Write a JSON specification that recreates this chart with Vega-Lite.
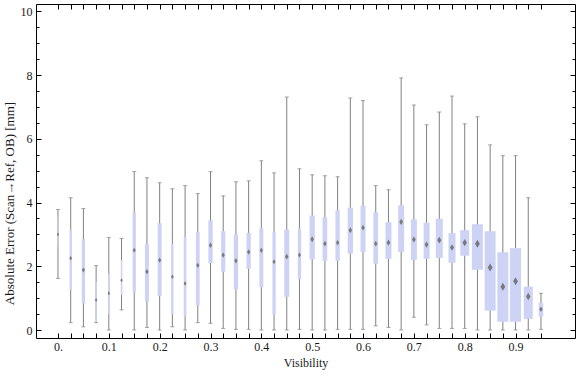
{
  "$schema": "https://vega.github.io/schema/vega-lite/v6.json",
  "width": 539,
  "height": 334,
  "autosize": {"type": "none"},
  "padding": {"left": 36, "top": 4, "right": 1, "bottom": 39},
  "background": "white",
  "config": {
    "view": {"stroke": "black", "strokeWidth": 1},
    "font": "Liberation Serif",
    "axis": {
      "labelFont": "Liberation Serif",
      "titleFont": "Liberation Serif",
      "labelFontSize": 12,
      "titleFontSize": 12,
      "titleFontWeight": "normal",
      "labelColor": "#1a1a1a",
      "titleColor": "#1a1a1a",
      "ticks": true,
      "tickColor": "#000000",
      "tickOpacity": 1,
      "tickWidth": 1,
      "domain": false,
      "grid": false,
      "labelOverlap": false,
      "labelFlush": false,
      "labelBound": false
    }
  },
  "data": {
    "values": [
      {"vis": 0.0, "lo": 1.62, "q1": 2.61, "med": 3.0, "q3": 3.55, "hi": 3.78, "n": 1},
      {"vis": 0.025, "lo": 0.23, "q1": 1.25, "med": 2.25, "q3": 3.15, "hi": 4.15, "n": 2.3},
      {"vis": 0.05, "lo": 0.1, "q1": 0.83, "med": 1.88, "q3": 2.85, "hi": 3.81, "n": 3.3},
      {"vis": 0.075, "lo": 0.23, "q1": 0.26, "med": 0.94, "q3": 1.51, "hi": 2.02, "n": 1.5},
      {"vis": 0.1, "lo": 0.0, "q1": 0.5, "med": 1.15, "q3": 1.77, "hi": 2.9, "n": 1.5},
      {"vis": 0.125, "lo": 0.63, "q1": 1.1, "med": 1.56, "q3": 2.19, "hi": 2.87, "n": 1.5},
      {"vis": 0.15, "lo": 0.0, "q1": 1.17, "med": 2.5, "q3": 3.69, "hi": 4.97, "n": 3.3},
      {"vis": 0.175, "lo": 0.08, "q1": 0.89, "med": 1.83, "q3": 2.69, "hi": 4.78, "n": 4},
      {"vis": 0.2, "lo": 0.0, "q1": 1.07, "med": 2.19, "q3": 3.35, "hi": 4.62, "n": 4},
      {"vis": 0.225, "lo": 0.1, "q1": 0.49, "med": 1.67, "q3": 2.71, "hi": 4.43, "n": 2.3},
      {"vis": 0.25, "lo": 0.0, "q1": 0.42, "med": 1.46, "q3": 2.92, "hi": 4.53, "n": 2.7},
      {"vis": 0.275, "lo": 0.23, "q1": 0.77, "med": 2.03, "q3": 3.07, "hi": 4.28, "n": 3.7},
      {"vis": 0.3, "lo": 0.21, "q1": 2.1, "med": 2.66, "q3": 3.44, "hi": 4.97, "n": 4.3},
      {"vis": 0.325, "lo": 0.05, "q1": 1.83, "med": 2.35, "q3": 3.1, "hi": 4.21, "n": 4.2},
      {"vis": 0.35, "lo": 0.02, "q1": 1.27, "med": 2.17, "q3": 3.0, "hi": 4.65, "n": 4.3},
      {"vis": 0.375, "lo": 0.02, "q1": 1.92, "med": 2.45, "q3": 3.05, "hi": 4.68, "n": 4.3},
      {"vis": 0.4, "lo": 0.0, "q1": 1.34, "med": 2.5, "q3": 3.19, "hi": 5.31, "n": 4},
      {"vis": 0.425, "lo": 0.0, "q1": 0.49, "med": 2.14, "q3": 3.07, "hi": 4.93, "n": 3.3},
      {"vis": 0.45, "lo": 0.0, "q1": 1.04, "med": 2.3, "q3": 3.15, "hi": 7.31, "n": 5},
      {"vis": 0.475, "lo": 0.02, "q1": 1.59, "med": 2.35, "q3": 3.19, "hi": 5.06, "n": 3.3},
      {"vis": 0.5, "lo": 0.0, "q1": 2.22, "med": 2.85, "q3": 3.59, "hi": 4.87, "n": 5.3},
      {"vis": 0.525, "lo": 0.0, "q1": 2.17, "med": 2.71, "q3": 3.53, "hi": 4.84, "n": 4.7},
      {"vis": 0.55, "lo": 0.02, "q1": 2.17, "med": 2.74, "q3": 3.76, "hi": 4.81, "n": 4.3},
      {"vis": 0.575, "lo": 0.02, "q1": 2.4, "med": 3.13, "q3": 3.84, "hi": 7.28, "n": 5.3},
      {"vis": 0.6, "lo": 0.02, "q1": 2.45, "med": 3.21, "q3": 3.9, "hi": 7.2, "n": 5},
      {"vis": 0.625, "lo": 0.13, "q1": 2.08, "med": 2.71, "q3": 3.69, "hi": 4.53, "n": 4.7},
      {"vis": 0.65, "lo": 0.08, "q1": 2.23, "med": 2.74, "q3": 3.38, "hi": 4.4, "n": 6},
      {"vis": 0.675, "lo": 0.0, "q1": 2.45, "med": 3.39, "q3": 3.91, "hi": 7.91, "n": 6},
      {"vis": 0.7, "lo": 0.4, "q1": 2.2, "med": 2.84, "q3": 3.47, "hi": 7.06, "n": 6},
      {"vis": 0.725, "lo": 0.16, "q1": 2.23, "med": 2.68, "q3": 3.37, "hi": 6.44, "n": 6},
      {"vis": 0.75, "lo": 0.05, "q1": 2.26, "med": 2.82, "q3": 3.49, "hi": 6.84, "n": 7},
      {"vis": 0.775, "lo": 0.05, "q1": 2.11, "med": 2.59, "q3": 3.04, "hi": 7.34, "n": 7},
      {"vis": 0.8, "lo": 0.05, "q1": 2.33, "med": 2.74, "q3": 3.13, "hi": 6.47, "n": 9},
      {"vis": 0.825, "lo": 0.0, "q1": 1.89, "med": 2.71, "q3": 3.32, "hi": 6.69, "n": 11},
      {"vis": 0.85, "lo": 0.0, "q1": 0.61, "med": 1.96, "q3": 3.1, "hi": 5.81, "n": 11},
      {"vis": 0.875, "lo": 0.0, "q1": 0.26, "med": 1.36, "q3": 2.44, "hi": 5.47, "n": 11},
      {"vis": 0.9, "lo": 0.0, "q1": 0.26, "med": 1.53, "q3": 2.57, "hi": 5.47, "n": 11},
      {"vis": 0.925, "lo": 0.0, "q1": 0.35, "med": 1.05, "q3": 1.36, "hi": 4.15, "n": 9},
      {"vis": 0.95, "lo": 0.02, "q1": 0.42, "med": 0.65, "q3": 0.85, "hi": 1.15, "n": 4.5}
    ]
  },
  "resolve": {"axis": {"x": "independent", "y": "independent"}, "scale": {"size": "independent"}},
  "layer": [
    {
      "mark": {"type": "rule", "color": "#808080", "strokeWidth": 1},
      "encoding": {
        "x": {
          "field": "vis", "type": "quantitative",
          "scale": {"domain": [-0.0334, 1.0071], "nice": false, "zero": false},
          "axis": {
            "orient": "bottom", "title": "Visibility",
            "values": [0, 0.025, 0.05, 0.075, 0.1, 0.125, 0.15, 0.175, 0.2, 0.225, 0.25, 0.275, 0.3, 0.325, 0.35, 0.375, 0.4, 0.425, 0.45, 0.475, 0.5, 0.525, 0.55, 0.575, 0.6, 0.625, 0.65, 0.675, 0.7, 0.725, 0.75, 0.775, 0.8, 0.825, 0.85, 0.875, 0.9, 0.925, 0.95],
            "tickSize": -5,
            "labelPadding": 8,
            "titlePadding": 5,
            "labelExpr": "abs(datum.value*10 - round(datum.value*10)) < 0.001 ? (datum.value < 0.001 ? '0.' : format(datum.value, '.1f')) : ''"
          }
        },
        "y": {
          "field": "lo", "type": "quantitative",
          "scale": {"domain": [-0.251, 10.229], "nice": false, "zero": false},
          "axis": {
            "orient": "left", "title": "Absolute Error (Scan→Ref, OB) [mm]",
            "titleFontSize": 13,
            "titleY": 199,
            "values": [0, 2, 4, 6, 8, 10],
            "tickSize": -5,
            "labelPadding": 9,
            "titlePadding": 4,
            "format": "d"
          }
        },
        "y2": {"field": "hi"}
      }
    },
    {
      "mark": {"type": "tick", "orient": "horizontal", "color": "#808080", "size": 4, "thickness": 1},
      "encoding": {
        "x": {"field": "vis", "type": "quantitative", "scale": {"domain": [-0.0334, 1.0071], "nice": false, "zero": false}, "axis": null},
        "y": {
          "field": "hi", "type": "quantitative",
          "scale": {"domain": [-0.251, 10.229], "nice": false, "zero": false},
          "axis": {
            "orient": "left", "title": null, "labels": false,
            "values": [0.5, 1, 1.5, 2.5, 3, 3.5, 4.5, 5, 5.5, 6.5, 7, 7.5, 8.5, 9, 9.5],
            "tickSize": -3
          }
        }
      }
    },
    {
      "mark": {"type": "tick", "orient": "horizontal", "color": "#808080", "size": 4, "thickness": 1},
      "encoding": {
        "x": {"field": "vis", "type": "quantitative", "scale": {"domain": [-0.0334, 1.0071], "nice": false, "zero": false}, "axis": null},
        "y": {
          "field": "lo", "type": "quantitative",
          "scale": {"domain": [-0.251, 10.229], "nice": false, "zero": false},
          "axis": {
            "orient": "right", "title": null, "labels": false,
            "values": [0.5, 1, 1.5, 2.5, 3, 3.5, 4.5, 5, 5.5, 6.5, 7, 7.5, 8.5, 9, 9.5],
            "tickSize": -3
          }
        }
      }
    },
    {
      "mark": {"type": "bar", "color": "#cdd3f5", "orient": "vertical"},
      "encoding": {
        "x": {
          "field": "vis", "type": "quantitative",
          "scale": {"domain": [-0.0334, 1.0071], "nice": false, "zero": false},
          "axis": {
            "orient": "top", "title": null, "labels": false,
            "values": [0, 0.025, 0.05, 0.075, 0.1, 0.125, 0.15, 0.175, 0.2, 0.225, 0.25, 0.275, 0.3, 0.325, 0.35, 0.375, 0.4, 0.425, 0.45, 0.475, 0.5, 0.525, 0.55, 0.575, 0.6, 0.625, 0.65, 0.675, 0.7, 0.725, 0.75, 0.775, 0.8, 0.825, 0.85, 0.875, 0.9, 0.925, 0.95],
            "tickSize": -5
          }
        },
        "y": {
          "field": "q1", "type": "quantitative",
          "scale": {"domain": [-0.251, 10.229], "nice": false, "zero": false},
          "axis": {
            "orient": "right", "title": null, "labels": false,
            "values": [0, 2, 4, 6, 8, 10],
            "tickSize": -5
          }
        },
        "y2": {"field": "q3"},
        "size": {"field": "n", "type": "quantitative", "scale": {"domain": [0, 12], "range": [0, 12]}, "legend": null}
      }
    },
    {
      "mark": {"type": "point", "filled": true, "color": "#6f6f6f", "opacity": 0.9, "shape": "M0,-1L0.6,0L0,1L-0.6,0Z"},
      "encoding": {
        "x": {"field": "vis", "type": "quantitative", "scale": {"domain": [-0.0334, 1.0071], "nice": false, "zero": false}, "axis": null},
        "y": {"field": "med", "type": "quantitative", "scale": {"domain": [-0.251, 10.229], "nice": false, "zero": false}, "axis": null},
        "size": {"field": "n", "type": "quantitative", "scale": {"domain": [0, 11], "range": [8, 64]}, "legend": null}
      }
    }
  ]
}
